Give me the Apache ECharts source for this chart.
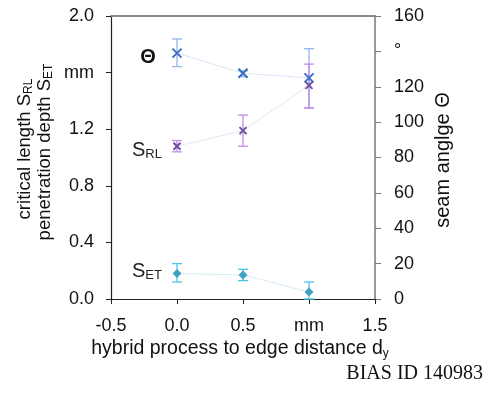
<!DOCTYPE html>
<html><head><meta charset="utf-8">
<script src="https://cdn.jsdelivr.net/npm/echarts@6/dist/echarts.min.js"></script>
<style>html,body{margin:0;padding:0;background:#fff}#c{width:489px;height:395px}</style>
</head><body><div id="c"></div>
<script>
var xs = [0, 0.5, 1.0];
var thetaMean = [139, 127.6, 125];
var thetaLow = [131.4, 125.7, 108];
var thetaHigh = [147, 129, 141.5];
var srlMean = [1.08, 1.19, 1.51];
var srlLow = [1.04, 1.08, 1.35];
var srlHigh = [1.12, 1.30, 1.66];
var setMean = [0.18, 0.17, 0.05];
var setLow = [0.12, 0.13, 0.0];
var setHigh = [0.25, 0.21, 0.12];
var xTicks = {'-0.5':'-0.5','0':'0.0','0.5':'0.5','1':'mm','1.5':'1.5'};
var yLeftUnitAt = 1.6, yRightUnitAt = 140;

var F = 'Liberation Sans, Arial, sans-serif';
var chart = echarts.init(document.getElementById('c'));
function pts(m){ return xs.map(function(x,i){return [x,m[i]];}); }
function errs(lo,hi){ return xs.map(function(x,i){return [x,lo[i],hi[i]];}); }
function errSeries(data, color, yi, cap){
  return {type:'custom', yAxisIndex:yi, data:data, z:3, silent:true,
    encode:{x:0,y:[1,2]},
    renderItem:function(params, api){
      var x=api.value(0), lo=api.coord([x,api.value(1)]), hi=api.coord([x,api.value(2)]);
      var st={stroke:color,lineWidth:1.3};
      return {type:'group',children:[
        {type:'line',shape:{x1:lo[0],y1:lo[1],x2:hi[0],y2:hi[1]},style:st},
        {type:'line',shape:{x1:lo[0]-cap,y1:lo[1],x2:lo[0]+cap,y2:lo[1]},style:st},
        {type:'line',shape:{x1:hi[0]-cap,y1:hi[1],x2:hi[0]+cap,y2:hi[1]},style:st}
      ]};
    }};
}
var X = 'path://M0,0L10,10M10,0L0,10';
chart.setOption({
  animation:false,
  grid:{left:111,right:114,top:16,bottom:96},
  xAxis:[{type:'value',min:-0.5,max:1.5,interval:0.5,
    axisLine:{onZero:false,lineStyle:{color:'#222',width:1.2}},
    axisTick:{show:true,length:5,inside:false,lineStyle:{color:'#222'}},
    splitLine:{show:false},
    axisLabel:{color:'#111',fontFamily:F,fontSize:18,margin:18,
      formatter:function(v){var k=String(Math.round(v*10)/10);return xTicks[k]!==undefined?xTicks[k]:v;}}},
    {type:'value',position:'top',min:-0.5,max:1.5,axisLine:{show:true,onZero:false,lineStyle:{color:'#888',width:2}},
     axisTick:{show:false},axisLabel:{show:false},splitLine:{show:false}}],
  yAxis:[{type:'value',min:0,max:2.0,interval:0.4,
    axisLine:{show:true,onZero:false,lineStyle:{color:'#222',width:1.2}},
    axisTick:{show:true,length:5,lineStyle:{color:'#222'}},
    splitLine:{show:false},
    axisLabel:{color:'#111',fontFamily:F,fontSize:18,margin:17,
      formatter:function(v){return Math.abs(v-yLeftUnitAt)<1e-6?'mm':v.toFixed(1);}}},
    {type:'value',min:0,max:160,interval:20,position:'right',
    axisLine:{show:true,onZero:false,lineStyle:{color:'#777',width:1.5}},
    axisTick:{show:true,length:6,lineStyle:{color:'#777'}},
    splitLine:{show:false},
    axisLabel:{color:'#111',fontFamily:F,fontSize:18,margin:19,
      formatter:function(v){return v===yRightUnitAt?'°':String(v);}}}],
  series:[
    {type:'line',yAxisIndex:1,data:pts(thetaMean),symbol:X,symbolSize:9,z:4,
      lineStyle:{color:'#b4c8ea',width:1,type:'dotted'},
      itemStyle:{color:'rgba(0,0,0,0)',borderColor:'#3d6fc2',borderWidth:2}},
    errSeries(errs(thetaLow,thetaHigh),'#94b6ec',1,5),
    {type:'line',yAxisIndex:0,data:pts(srlMean),symbol:X,symbolSize:7,z:4,
      lineStyle:{color:'#d2c8e4',width:1,type:'dotted'},
      itemStyle:{color:'rgba(0,0,0,0)',borderColor:'#6e4fa0',borderWidth:2}},
    errSeries(errs(srlLow,srlHigh),'#c48aec',0,5),
    {type:'line',yAxisIndex:0,data:pts(setMean),symbol:'diamond',symbolSize:9,z:4,
      lineStyle:{color:'#a6d8ea',width:1,type:'dotted'},
      itemStyle:{color:'#3ea2c4'}},
    errSeries(errs(setLow,setHigh),'#4cc6ea',0,5)
  ],
  graphic:[
    {type:'text',x:148,y:57,style:{text:'Θ',font:'bold 20px '+F,fill:'#111',align:'center',verticalAlign:'middle'}},
    {type:'text',left:132,top:140,style:{text:'{s|S}{b|RL}',fill:'#222',rich:{s:{fontSize:20,fontFamily:F,fill:'#222'},b:{fontSize:13,fontFamily:F,fill:'#222',padding:[9,0,0,0]}}}},
    {type:'text',left:132,top:261,style:{text:'{s|S}{b|ET}',fill:'#222',rich:{s:{fontSize:20,fontFamily:F,fill:'#222'},b:{fontSize:13,fontFamily:F,fill:'#222',padding:[9,0,0,0]}}}},
    {type:'text',x:25,y:149,rotation:Math.PI/2,style:{text:'{s|critical length S}{b|RL}',align:'center',verticalAlign:'middle',rich:{s:{fontSize:18.5,fontFamily:F,fill:'#111'},b:{fontSize:12,fontFamily:F,fill:'#111',padding:[8,0,0,0]}}}},
    {type:'text',x:45,y:152,rotation:Math.PI/2,style:{text:'{s|penetration depth S}{b|ET}',align:'center',verticalAlign:'middle',rich:{s:{fontSize:18.5,fontFamily:F,fill:'#111'},b:{fontSize:12,fontFamily:F,fill:'#111',padding:[8,0,0,0]}}}},
    {type:'text',x:443,y:160,rotation:Math.PI/2,style:{text:'seam anglge Θ',align:'center',verticalAlign:'middle',font:'20px '+F,fill:'#111'}},
    {type:'text',x:240,y:349,style:{text:'{s|hybrid process to edge distance d}{b|y}',align:'center',verticalAlign:'middle',rich:{s:{fontSize:19.5,fontFamily:F,fill:'#111'},b:{fontSize:12,fontFamily:F,fill:'#111',padding:[9,0,0,0]}}}},
    {type:'text',right:6,top:364,style:{text:'BIAS ID 140983',font:'20px Liberation Serif, Times New Roman, serif',fill:'#111'}}
  ]
});
</script></body></html>
